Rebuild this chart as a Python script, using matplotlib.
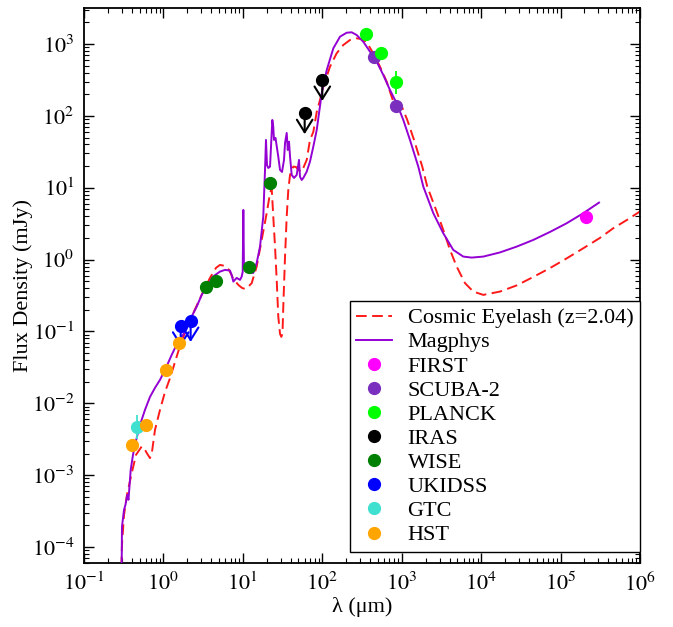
import numpy as np
import matplotlib
matplotlib.use("Agg")
import matplotlib.pyplot as plt
from matplotlib.ticker import LogLocator, FuncFormatter, NullFormatter, FixedLocator
from matplotlib.transforms import offset_copy

plt.rcParams['font.family'] = ['Liberation Serif', 'DejaVu Serif']
plt.rcParams['mathtext.fontset'] = 'stix'

# ---- model curves (log10 lambda [um], log10 flux [mJy]) ----
magphys_loglam = [-0.540, -0.525, -0.522, -0.496, -0.478, -0.455, -0.440, -0.412, -0.383, -0.358,
                  -0.295, -0.232, -0.169, -0.106, -0.043, 0.032, 0.104, 0.183, 0.272, 0.347,
                  0.419, 0.482, 0.545, 0.624, 0.712, 0.775, 0.838, 0.859, 0.880, 0.922,
                  0.964, 0.985, 0.998, 1.006, 1.014, 1.048, 1.090, 1.131, 1.174, 1.216,
                  1.257, 1.279, 1.291, 1.304, 1.320, 1.342, 1.371, 1.383, 1.392, 1.411,
                  1.446, 1.468, 1.493, 1.518, 1.531, 1.552, 1.565, 1.581, 1.594, 1.615,
                  1.644, 1.678, 1.707, 1.719, 1.741, 1.761, 1.804, 1.845, 1.887, 1.930,
                  1.993, 2.056, 2.139, 2.223, 2.307, 2.370, 2.433, 2.516, 2.601, 2.685,
                  2.768, 2.852, 2.937, 3.020, 3.104, 3.209, 3.272, 3.398, 3.523, 3.649,
                  3.775, 3.881, 4.027, 4.237, 4.448, 4.657, 4.867, 5.077, 5.282, 5.484]
magphys_logflux = [-4.730, -4.177, -3.718, -3.481, -3.412, -3.273, -3.342, -2.925, -2.716, -2.577,
                   -2.299, -2.090, -1.910, -1.784, -1.673, -1.506, -1.326, -1.145, -1.006, -0.811,
                   -0.654, -0.491, -0.376, -0.236, -0.167, -0.143, -0.153, -0.213, -0.306, -0.255,
                   -0.282, -0.237, -0.171, 0.691, -0.115, -0.167, -0.185, -0.185, -0.046, 0.181,
                   0.598, 1.248, 1.665, 1.317, 1.275, 1.293, 1.943, 1.846, 1.665, 1.693,
                   1.433, 1.248, 1.220, 1.387, 1.623, 1.762, 1.526, 1.641, 1.433, 1.178,
                   1.136, 1.178, 1.387, 1.154, 1.108, 1.136, 1.224, 1.363, 1.572, 1.804,
                   2.314, 2.638, 2.940, 3.102, 3.157, 3.163, 3.125, 3.032, 2.893, 2.754,
                   2.569, 2.360, 2.175, 1.943, 1.665, 1.293, 1.015, 0.645, 0.367, 0.135,
                   0.042, 0.028, 0.042, 0.100, 0.181, 0.274, 0.385, 0.506, 0.643, 0.793]

eyelash_loglam = [-0.540, -0.522, -0.496, -0.459, -0.399, -0.345, -0.274, -0.245, -0.211, -0.169,
                  -0.144, -0.106, -0.043, 0.020, 0.083, 0.146, 0.209, 0.284, 0.360, 0.435,
                  0.511, 0.586, 0.662, 0.712, 0.775, 0.826, 0.880, 0.943, 0.989, 1.027,
                  1.065, 1.111, 1.174, 1.237, 1.300, 1.342, 1.363, 1.383, 1.405, 1.426,
                  1.446, 1.468, 1.484, 1.499, 1.509, 1.531, 1.552, 1.572, 1.594, 1.635,
                  1.669, 1.698, 1.741, 1.804, 1.845, 1.887, 1.930, 1.971, 2.013, 2.097,
                  2.181, 2.264, 2.349, 2.433, 2.516, 2.579, 2.642, 2.727, 2.811, 2.894,
                  2.985, 3.070, 3.155, 3.259, 3.322, 3.448, 3.523, 3.608, 3.692, 3.797, 3.901,
                  4.027, 4.237, 4.448, 4.657, 4.867, 5.077, 5.286, 5.496, 5.664, 5.836, 6.000]
eyelash_logflux = [-4.730, -3.968, -3.551, -3.273, -2.971, -2.716, -2.601, -2.619, -2.689, -2.762,
                   -2.675, -2.369, -2.090, -1.840, -1.650, -1.423, -1.200, -0.978, -0.783, -0.602,
                   -0.421, -0.255, -0.115, -0.074, -0.088, -0.143, -0.268, -0.352, -0.394, -0.408,
                   -0.380, -0.328, -0.097, 0.274, 0.645, 0.923, 0.993, 0.598, 0.181, -0.282,
                   -0.793, -1.033, -1.075, -1.033, -0.654, 0.042, 0.598, 0.969, 1.178, 1.294,
                   1.289, 1.248, 1.224, 1.387, 1.665, 1.776, 2.054, 2.221, 2.406, 2.684,
                   2.871, 2.986, 3.056, 3.079, 3.065, 2.986, 2.871, 2.684, 2.476, 2.197,
                   2.175, 1.943, 1.665, 1.293, 1.015, 0.645, 0.413, 0.135, -0.097, -0.328, -0.445,
                   -0.491, -0.445, -0.359, -0.241, -0.118, 0.017, 0.158, 0.302, 0.437, 0.552, 0.670]

# ---- photometry (lambda um, flux mJy) ----
first_lam, first_flux = [2.1e5], [3.9]
scuba_lam, scuba_flux = [450, 850], [650, 137]
planck_lam, planck_flux = [350, 550, 850], [1380, 740, 293]
planck_err_lo, planck_err_hi = [0, 0, 93], [0, 0, 134]
iras_lam, iras_flux = [60, 100], [109, 316]          # upper limits
wise_lam, wise_flux = [3.4, 4.6, 12, 22], [0.42, 0.50, 0.79, 11.7]
ukidss_lam, ukidss_flux = [1.65, 2.2], [0.12, 0.14]  # upper limits
gtc_lam, gtc_flux = [0.46], [0.0047]
gtc_err_lo, gtc_err_hi = [0.0015], [0.0022]
hst_lam, hst_flux = [0.40, 0.60, 1.07, 1.57], [0.0026, 0.0050, 0.0295, 0.070]

x_decades = [-1, 0, 1, 2, 3, 4, 5, 6]
y_decades = [-4, -3, -2, -1, 0, 1, 2, 3]

fig = plt.figure(figsize=(6.73, 6.27), dpi=100)
ax = fig.add_axes([84/673, 1-563/627, 556/673, 555/627])
ax.set_xscale('log')
ax.set_yscale('log')

ax.plot(10**np.array(eyelash_loglam), 10**np.array(eyelash_logflux), color='#ff1a1a',
        lw=1.4, dashes=(5.5, 2.8), label='Cosmic Eyelash (z=2.04)', zorder=2)
ax.plot(10**np.array(magphys_loglam), 10**np.array(magphys_logflux), color='#9400d3',
        lw=1.4, label='Magphys', zorder=3)

ms = 8.5
ax.errorbar(planck_lam, planck_flux, yerr=[planck_err_lo, planck_err_hi], fmt='none',
            ecolor='#00ff00', elinewidth=1.3, capsize=0, zorder=4)
ax.errorbar(gtc_lam, gtc_flux, yerr=[gtc_err_lo, gtc_err_hi], fmt='none',
            ecolor='#40e0d0', elinewidth=1.3, capsize=0, zorder=4)

arrow_tr = offset_copy(ax.transData, fig=fig, x=0, y=-21, units='dots')
for lams, fl, c in [(iras_lam, iras_flux, 'black'), (ukidss_lam, ukidss_flux, '#0000ff')]:
    for l, f in zip(lams, fl):
        ax.annotate('', xy=(l, f), xycoords=arrow_tr, xytext=(l, f), textcoords='data',
                    arrowprops=dict(arrowstyle='->,head_length=0.45,head_width=0.28',
                                    color=c, lw=1.5, mutation_scale=20,
                                    shrinkA=0, shrinkB=0), zorder=4)

pts = [(first_lam, first_flux, '#ff00ff', 'FIRST'),
       (scuba_lam, scuba_flux, '#7b2fbe', 'SCUBA-2'),
       (planck_lam, planck_flux, '#00ff00', 'PLANCK'),
       (iras_lam, iras_flux, 'black', 'IRAS'),
       (wise_lam, wise_flux, '#008000', 'WISE'),
       (ukidss_lam, ukidss_flux, '#0000ff', 'UKIDSS'),
       (gtc_lam, gtc_flux, '#40e0d0', 'GTC'),
       (hst_lam, hst_flux, '#ffa500', 'HST')]
for lam, fl, c, lab in pts:
    ax.plot(lam, fl, 'o', color=c, ms=ms, mec=c, ls='none', label=lab, zorder=5)

ax.set_xlim(0.1, 1e6)
ax.set_ylim(6e-5, 3.17e3)

def fmt(v, pos):
    e = int(round(np.log10(v)))
    return '$10^{%s}$' % (str(e) if e >= 0 else '-' + str(-e))

ax.xaxis.set_major_locator(FixedLocator([10.0**k for k in x_decades]))
ax.yaxis.set_major_locator(FixedLocator([10.0**k for k in y_decades]))
for axis in (ax.xaxis, ax.yaxis):
    axis.set_minor_locator(LogLocator(base=10, subs=np.arange(2, 10), numticks=20))
    axis.set_major_formatter(FuncFormatter(fmt))
    axis.set_minor_formatter(NullFormatter())

ax.tick_params(which='both', direction='in', top=True, right=True, labelsize=16)
ax.tick_params(which='major', length=7, width=1.0, pad=7)
ax.tick_params(which='minor', length=3.5, width=0.8)
for s in ax.spines.values():
    s.set_linewidth(1.3)

ax.set_xlabel('λ (μm)', fontsize=16, labelpad=1)
ax.set_ylabel('Flux Density (mJy)', fontsize=16, labelpad=-1)

leg = ax.legend(loc='lower right', bbox_to_anchor=(1.0, 11/555), borderaxespad=0,
                fontsize=16, frameon=True, fancybox=False, framealpha=1,
                edgecolor='black', labelspacing=0.16, handlelength=1.6,
                handletextpad=0.7, borderpad=0.3, numpoints=1)
leg.get_frame().set_linewidth(1.0)

fig.savefig('out.png', dpi=100)
